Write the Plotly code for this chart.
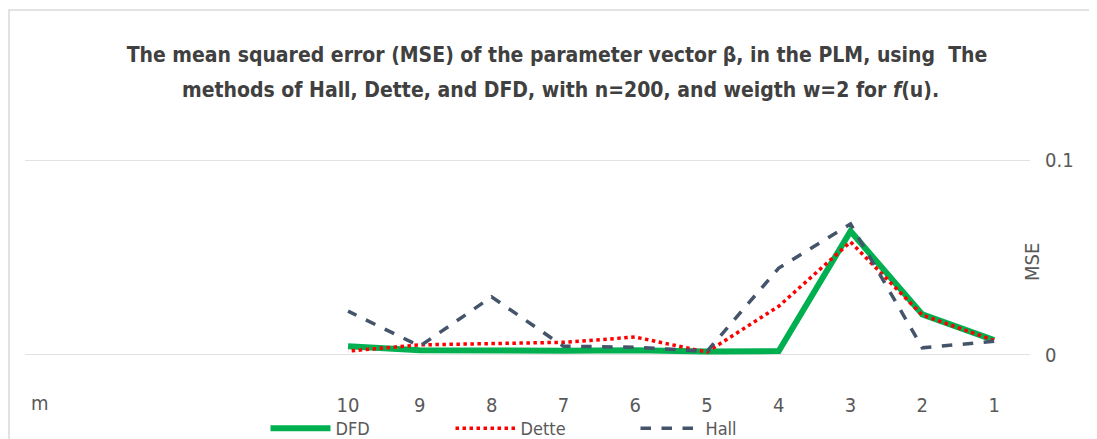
import plotly.graph_objects as go

m = [1, 2, 3, 4, 5, 6, 7, 8, 9, 10]
hall = [0.0070, 0.0037, 0.0672, 0.0446, 0.0018, 0.0040, 0.0045, 0.0298, 0.0045, 0.0225]
dette = [0.0075, 0.0205, 0.0580, 0.0250, 0.0015, 0.0092, 0.0065, 0.0058, 0.0052, 0.0020]
dfd = [0.0076, 0.0208, 0.0635, 0.0020, 0.0018, 0.0025, 0.0022, 0.0020, 0.0025, 0.0045]
tick_labels = [str(v) for v in m]
title_l1 = "<b>The mean squared error (MSE) of the parameter vector β, in the PLM, using  The</b>"
title_l2 = "<b>methods of Hall, Dette, and DFD, with n=200, and weigth w=2 for <i>f</i>(u).</b>"

OFF = 8  # page body margin
W, H = 1097 - OFF, 439 - OFF
# plot area in screen pixels of the reference
SL, SR, ST, SB = 25, 1030, 160, 355
L, T = SL - OFF, ST - OFF
R = W - (SR - OFF)
B = H - (SB - OFF)
pw = W - L - R
ph = H - T - B

def px(x):
    return (x - SL) / pw

def py(y):
    return (SB - y) / ph

FONT = "DejaVu Sans Condensed, Liberation Sans Narrow, Roboto Condensed, Liberation Sans, Arial"

fig = go.Figure()
fig.add_trace(go.Scatter(x=m, y=dfd, name="DFD", mode="lines",
                         line=dict(color="#00b050", width=6)))
fig.add_trace(go.Scatter(x=m, y=dette, name="Dette", mode="lines",
                         line=dict(color="#ff0000", width=3.5, dash="dot")))
fig.add_trace(go.Scatter(x=m, y=hall, name="Hall", mode="lines",
                         line=dict(color="#44546a", width=3.5, dash="dash")))

for gy in [0, 0.1]:
    fig.add_shape(type="line", xref="paper", yref="y", x0=0, x1=1, y0=gy, y1=gy,
                  line=dict(color="#d9d9d9", width=1.5), layer="below")

fig.update_layout(
    width=W, height=H,
    margin=dict(l=L, r=R, t=T, b=B, autoexpand=False),
    paper_bgcolor="white", plot_bgcolor="white",
    font=dict(family=FONT, color="#595959", size=18),
    title=dict(
        text=title_l1, xref="paper",
        x=px(557), xanchor="center", y=1 - (55 - OFF) / H, yanchor="middle",
        font=dict(size=21, color="#404040", family=FONT),
    ),
    xaxis=dict(range=[14.5, 0.5], tickvals=m, ticktext=tick_labels,
               showgrid=False, zeroline=False, showline=False, automargin=False,
               tickfont=dict(size=20, color="#595959"), ticks="",
               ticklabelstandoff=36),
    yaxis=dict(range=[0, 0.1], side="right", tickvals=[0, 0.1], ticktext=["0", "0.1"],
               showgrid=False, zeroline=False, automargin=False,
               showline=False, tickfont=dict(size=20, color="#595959"), ticks="",
               ticklabelstandoff=14),
    legend=dict(orientation="h", x=px(543), xanchor="center",
                y=py(447), yanchor="bottom", font=dict(size=18, color="#595959"),
                traceorder="normal", bgcolor="rgba(0,0,0,0)", entrywidth=110,
                itemwidth=60),
    showlegend=True,
)

fig.add_annotation(text=title_l2, xref="paper", yref="paper", x=px(560), y=py(90),
                   xanchor="center", yanchor="middle", showarrow=False,
                   font=dict(size=21, color="#404040", family=FONT))
fig.add_annotation(text="MSE", xref="paper", yref="paper", x=px(1032), y=py(262),
                   xanchor="center", yanchor="middle",
                   showarrow=False, textangle=-90, font=dict(size=20, color="#595959"))
fig.add_annotation(text="m", xref="paper", yref="paper", x=px(40), y=py(403),
                   xanchor="center", yanchor="middle",
                   showarrow=False, font=dict(size=20, color="#595959"))
fig.add_shape(type="rect", xref="paper", yref="paper", x0=px(9), x1=px(1110),
              y0=py(450), y1=py(10), line=dict(color="#d9d9d9", width=1.5))

fig.write_html("out.html")
